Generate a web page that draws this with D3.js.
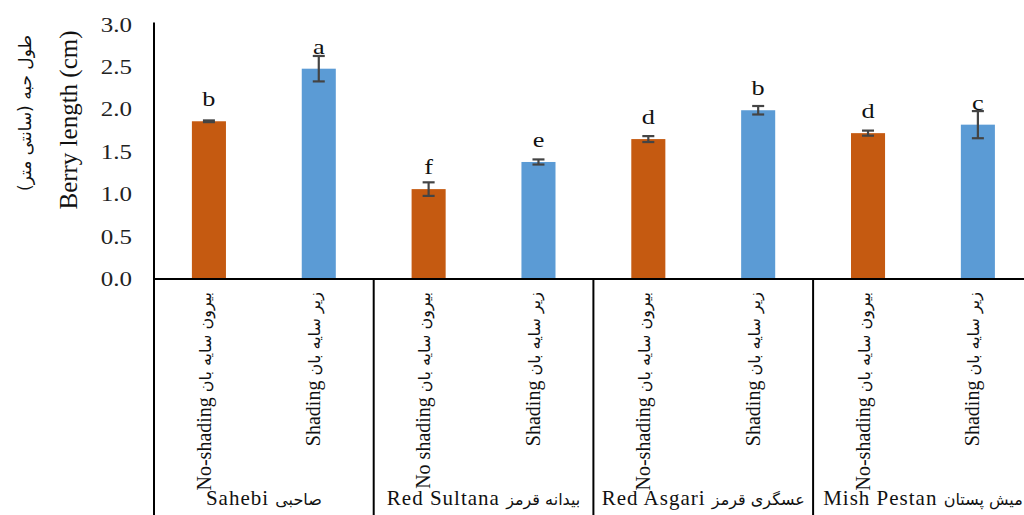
<!DOCTYPE html>
<html><head><meta charset="utf-8">
<script src="https://cdn.jsdelivr.net/npm/d3@7"></script>
<style>body{margin:0;background:#fff} .s{font-family:"Liberation Serif","Times New Roman","DejaVu Serif",serif} .f{font-family:"DejaVu Sans","Noto Sans",sans-serif}</style></head>
<body><svg id="c" width="1024" height="515"></svg>
<script>
const cultivars = ["Sahebi","Red Sultana","Red Asgari","Mish Pestan"];
const cultivarFa = ["صاحبی","بیدانه قرمز","عسگری قرمز","میش پستان"];
const treatments = ["ns","sh"];
const treatmentEn = [["No-shading","Shading"],["No shading","Shading"],["No-shading","Shading"],["No-shading","Shading"]];
const treatmentFa = ["بیرون سایه بان","زیر سایه بان"];
const noShading = [1.86,1.06,1.65,1.72];
const shading = [2.48,1.38,1.99,1.82];
const noShadingErr = [0.01,0.08,0.035,0.03];
const shadingErr = [0.15,0.03,0.05,0.16];
const noShadingLetters = ["b","f","d","d"];
const shadingLetters = ["a","e","b","c"];
const yTicks = [0,0.5,1,1.5,2,2.5,3];
const colors = ["#C55A11","#5B9BD5"];

const svg = d3.select("#c");
const x0 = 154, yZero = 279, yTop = 24.6;
const x = d3.scaleBand().domain(cultivars).range([x0, x0 + 4*219.7]).padding(0);
const xi = d3.scaleBand().domain(treatments).range([0, x.bandwidth()]).paddingInner(0.69).paddingOuter(0.345);
const y = d3.scaleLinear().domain([0,3]).range([yZero, yTop]);

const data = [];
cultivars.forEach((c,i)=>{
  data.push({c, t:"ns", ti:0, i, v:noShading[i], e:noShadingErr[i], l:noShadingLetters[i]});
  data.push({c, t:"sh", ti:1, i, v:shading[i], e:shadingErr[i], l:shadingLetters[i]});
});

// y axis
const yAxis = d3.axisLeft(y).tickValues(yTicks).tickSize(0).tickPadding(22).tickFormat(d3.format(".1f"));
const ga = svg.append("g").attr("transform",`translate(${x0},0)`).call(yAxis);
ga.select(".domain").remove();
ga.attr("font-family",null).attr("font-size",null);
ga.selectAll(".tick text").attr("class","s").attr("font-size",20).attr("fill","#222")
  .attr("transform","scale(1.25,1)").attr("x",-22/1.25);

// bars
svg.append("g").selectAll("rect").data(data).join("rect")
  .attr("x",d=>x(d.c)+xi(d.t)).attr("width",xi.bandwidth())
  .attr("y",d=>y(d.v)).attr("height",d=>yZero-y(d.v))
  .attr("fill",d=>colors[d.ti]);

// error bars
const eg = svg.append("g").attr("stroke","#444").attr("stroke-width",2.2);
data.forEach(d=>{
  const cx = x(d.c)+xi(d.t)+xi.bandwidth()/2;
  eg.append("line").attr("x1",cx).attr("x2",cx).attr("y1",y(d.v+d.e)).attr("y2",y(d.v-d.e));
  eg.append("line").attr("x1",cx-6).attr("x2",cx+6).attr("y1",y(d.v+d.e)).attr("y2",y(d.v+d.e));
  eg.append("line").attr("x1",cx-6).attr("x2",cx+6).attr("y1",y(d.v-d.e)).attr("y2",y(d.v-d.e));
});

// letters
svg.append("g").selectAll("text").data(data).join("text")
  .attr("transform",d=>`translate(${x(d.c)+xi(d.t)+xi.bandwidth()/2},${y(d.v)-15}) scale(1.25,1)`)
  .attr("text-anchor","middle").attr("class","s").attr("font-size",21).attr("fill","#111")
  .text(d=>d.l);

// axis lines
svg.append("line").attr("x1",x0).attr("x2",1024).attr("y1",yZero).attr("y2",yZero).attr("stroke","#000").attr("stroke-width",2);
svg.append("line").attr("x1",x0).attr("x2",x0).attr("y1",yTop-2).attr("y2",515).attr("stroke","#000").attr("stroke-width",2);
cultivars.slice(1).forEach(c=>{
  svg.append("line").attr("x1",x(c)).attr("x2",x(c)).attr("y1",yZero).attr("y2",515).attr("stroke","#000").attr("stroke-width",2);
});

// treatment labels (rotated)
data.forEach(d=>{
  const cx = x(d.c)+xi(d.t)+xi.bandwidth()/2 - 4;
  const t = svg.append("text").attr("transform",`translate(${cx},292) rotate(-90)`)
    .attr("text-anchor","end").attr("dy","0.35em").attr("fill","#111");
  t.append("tspan").attr("class","s").attr("font-size",20).text(treatmentEn[d.i][d.ti]+" ");
  t.append("tspan").attr("class","f").attr("font-size",16).text(treatmentFa[d.ti]);
});

// cultivar labels
cultivars.forEach((c,i)=>{
  const t = svg.append("text").attr("x",x(c)+x.bandwidth()/2).attr("y",505)
    .attr("text-anchor","middle").attr("fill","#111");
  t.append("tspan").attr("class","s").attr("font-size",21).attr("letter-spacing",1).text(c+(i===0?"  ":" "));
  t.append("tspan").attr("class","f").attr("font-size",16).text(cultivarFa[i]);
});

// y titles
svg.append("text").attr("transform","translate(68,120) rotate(-90)").attr("text-anchor","middle")
  .attr("dy","0.35em").attr("class","s").attr("font-size",25).attr("fill","#111").text("Berry length (cm)");
svg.append("text").attr("transform","translate(25,113) rotate(-90)").attr("text-anchor","middle")
  .attr("dy","0.35em").attr("class","f").attr("font-size",17).attr("fill","#111").text("طول حبه (سانتی متر)");
</script></body></html>
